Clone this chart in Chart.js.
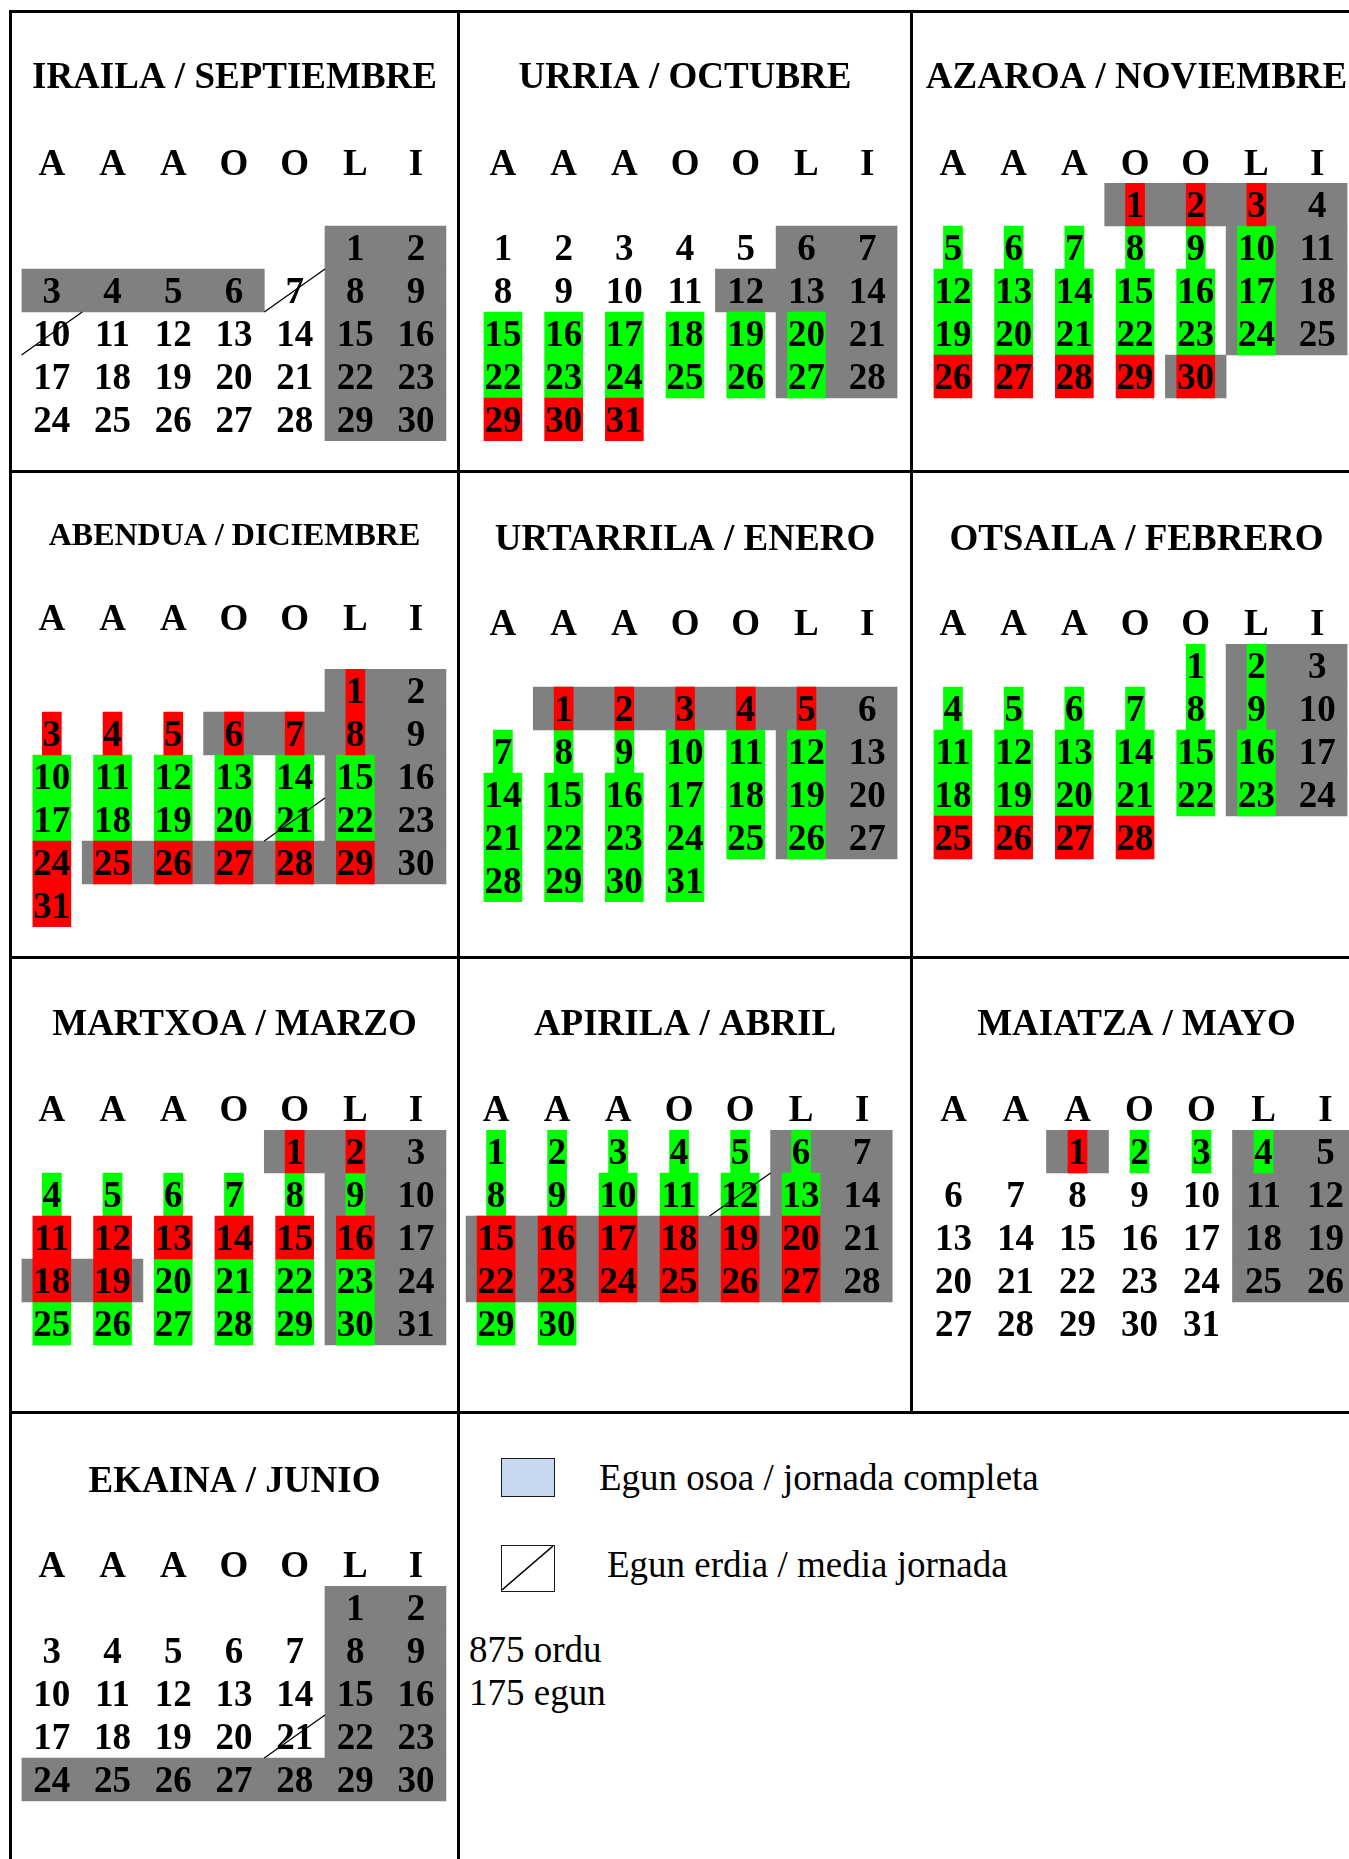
<!DOCTYPE html>
<html lang="eu">
<head>
    <meta charset="UTF-8">
    <meta name="viewport" content="width=device-width, initial-scale=1.0">
    <title>Egutegia / Calendario</title>
    <script src="https://cdn.jsdelivr.net/npm/chart.js"></script>
    <style>
        body { margin: 0; background: #fff; }
        #page { position: relative; width: 1349px; height: 1859px; overflow: hidden; background: #fff; }
        #page canvas { position: absolute; }
        .ln { position: absolute; background: #000; }
        .txt {
            position: absolute;
            font-family: "Liberation Serif", "Times New Roman", serif;
            font-size: 37px;
            line-height: 37px;
            white-space: nowrap;
            color: #000;
        }
        .key { position: absolute; box-sizing: border-box; border: 1.5px solid #1a1a1a; }
    </style>
</head>
<body>
<div id="page">
    <!-- table lines -->
    <div class="ln" style="left:9px;top:10px;width:3px;height:1849px"></div>
    <div class="ln" style="left:457px;top:10px;width:3px;height:1849px"></div>
    <div class="ln" style="left:910px;top:10px;width:3px;height:1404px"></div>
    <div class="ln" style="left:9px;top:10px;width:1340px;height:3px"></div>
    <div class="ln" style="left:9px;top:470px;width:1340px;height:3px"></div>
    <div class="ln" style="left:9px;top:956px;width:1340px;height:3px"></div>
    <div class="ln" style="left:9px;top:1411px;width:1340px;height:3px"></div>

    <!-- legend -->
    <div class="key" style="left:501px;top:1458px;width:54px;height:39px;background:#c6d9f1"></div>
    <div class="key" style="left:501px;top:1545px;width:54px;height:47px;background:#fff">
        <svg width="51" height="44" viewBox="0 0 51 44" style="display:block">
            <line x1="0" y1="44" x2="51" y2="0" stroke="#000" stroke-width="1.5"/>
        </svg>
    </div>
    <div class="txt" id="leg0" style="left:599px;top:1459px"></div>
    <div class="txt" id="leg1" style="left:607px;top:1546px"></div>
    <div class="txt" id="tot0" style="left:469px;top:1631px"></div>
    <div class="txt" id="tot1" style="left:469px;top:1674px"></div>
</div>

<script>
    // ---- data ----
    const weekdayLabels = ['A', 'A', 'A', 'O', 'O', 'L', 'I'];
    const monthTitles = [
        'IRAILA / SEPTIEMBRE', 'URRIA / OCTUBRE', 'AZAROA / NOVIEMBRE',
        'ABENDUA / DICIEMBRE', 'URTARRILA / ENERO', 'OTSAILA / FEBRERO',
        'MARTXOA / MARZO', 'APIRILA / ABRIL', 'MAIATZA / MAYO', 'EKAINA / JUNIO'
    ];
    // column of day 1 (0 = astelehena ... 6 = igandea)
    const firstWeekday = [5, 0, 3, 5, 1, 4, 4, 0, 2, 5];
    const monthLength = [30, 31, 30, 31, 31, 28, 31, 30, 31, 30];
    // grey runs [fromDay, toDay], each inside one week
    const greyRuns = [
        [[1, 2], [3, 6], [8, 9], [15, 16], [22, 23], [29, 30]],
        [[6, 7], [12, 14], [20, 21], [27, 28]],
        [[1, 4], [10, 11], [17, 18], [24, 25], [30, 30]],
        [[1, 2], [6, 9], [15, 16], [22, 23], [25, 30]],
        [[1, 6], [12, 13], [19, 20], [26, 27]],
        [[2, 3], [9, 10], [16, 17], [23, 24]],
        [[1, 3], [9, 10], [16, 17], [18, 19], [23, 24], [30, 31]],
        [[6, 7], [13, 14], [15, 21], [22, 28]],
        [[1, 1], [4, 5], [11, 12], [18, 19], [25, 26]],
        [[1, 2], [8, 9], [15, 16], [22, 23], [24, 30]]
    ];
    const greenDays = [
        [],
        [15, 16, 17, 18, 19, 20, 22, 23, 24, 25, 26, 27],
        [5, 6, 7, 8, 9, 10, 12, 13, 14, 15, 16, 17, 19, 20, 21, 22, 23, 24],
        [10, 11, 12, 13, 14, 15, 17, 18, 19, 20, 21, 22],
        [7, 8, 9, 10, 11, 12, 14, 15, 16, 17, 18, 19, 21, 22, 23, 24, 25, 26, 28, 29, 30, 31],
        [1, 2, 4, 5, 6, 7, 8, 9, 11, 12, 13, 14, 15, 16, 18, 19, 20, 21, 22, 23],
        [4, 5, 6, 7, 8, 9, 20, 21, 22, 23, 25, 26, 27, 28, 29, 30],
        [1, 2, 3, 4, 5, 6, 8, 9, 10, 11, 12, 13, 29, 30],
        [2, 3, 4],
        []
    ];
    const redDays = [
        [],
        [29, 30, 31],
        [1, 2, 3, 26, 27, 28, 29, 30],
        [1, 3, 4, 5, 6, 7, 8, 24, 25, 26, 27, 28, 29, 31],
        [1, 2, 3, 4, 5],
        [25, 26, 27, 28],
        [1, 2, 11, 12, 13, 14, 15, 16, 18, 19],
        [15, 16, 17, 18, 19, 20, 22, 23, 24, 25, 26, 27],
        [1],
        []
    ];
    const halfDays = [[7, 10], [], [], [21], [], [], [], [12], [], [21]];
    const legendLabels = ['Egun osoa / jornada completa', 'Egun erdia / media jornada'];
    const totals = ['875 ordu', '175 egun'];

    // ---- layout (page px) ----
    const ROW_H = 43;
    const ROW_SLOTS = 6;
    const DIGIT_W = 19;
    const layout = [
        { box: [12, 13, 445, 457],  gridLeft: 21.5,  colW: 60.7, gridTop: 183,  weekSlot: 1, titleBase: 88,   headBase: 175,  titleSize: 37 },
        { box: [460, 13, 450, 457], gridLeft: 472.6, colW: 60.7, gridTop: 183,  weekSlot: 1, titleBase: 88,   headBase: 175,  titleSize: 37 },
        { box: [913, 13, 447, 457], gridLeft: 922.6, colW: 60.7, gridTop: 183,  weekSlot: 0, titleBase: 88,   headBase: 175,  titleSize: 37 },
        { box: [12, 473, 445, 483], gridLeft: 21.5,  colW: 60.7, gridTop: 669,  weekSlot: 0, titleBase: 545,  headBase: 630,  titleSize: 32 },
        { box: [460, 473, 450, 483], gridLeft: 472.6, colW: 60.7, gridTop: 644, weekSlot: 1, titleBase: 550,  headBase: 635,  titleSize: 37 },
        { box: [913, 473, 447, 483], gridLeft: 922.6, colW: 60.7, gridTop: 644, weekSlot: 0, titleBase: 550,  headBase: 635,  titleSize: 37 },
        { box: [12, 959, 445, 452], gridLeft: 21.5,  colW: 60.7, gridTop: 1130, weekSlot: 0, titleBase: 1035, headBase: 1121, titleSize: 37 },
        { box: [460, 959, 450, 452], gridLeft: 465.6, colW: 61,  gridTop: 1130, weekSlot: 0, titleBase: 1035, headBase: 1121, titleSize: 37 },
        { box: [913, 959, 447, 452], gridLeft: 922.5, colW: 62,  gridTop: 1130, weekSlot: 0, titleBase: 1035, headBase: 1121, titleSize: 37 },
        { box: [12, 1414, 445, 445], gridLeft: 21.5, colW: 60.7, gridTop: 1586, weekSlot: 0, titleBase: 1492, headBase: 1577, titleSize: 37 }
    ];

    function cellOf(m, day) {
        const idx = firstWeekday[m] + day - 1;
        return { col: idx % 7, slot: Math.floor(idx / 7) + layout[m].weekSlot };
    }

    function buildDatasets(m) {
        const colW = layout[m].colW;
        const grey = greyRuns[m].map(([a, b]) => {
            const p = cellOf(m, a), q = cellOf(m, b);
            return { y: p.slot, x: [p.col - 0.5, q.col + 0.5] };
        });
        // highlight as wide as the number itself
        const marks = days => days.map(d => {
            const c = cellOf(m, d);
            const half = String(d).length * DIGIT_W / 2 / colW;
            return { y: c.slot, x: [c.col - half, c.col + half] };
        });
        const common = { grouped: false, categoryPercentage: 1, barPercentage: 1, borderWidth: 0 };
        return [
            { ...common, label: 'grey', data: grey, backgroundColor: '#808080', order: 3 },
            { ...common, label: 'green', data: marks(greenDays[m]), backgroundColor: '#00ff00', order: 2 },
            { ...common, label: 'red', data: marks(redDays[m]), backgroundColor: '#ff0000', order: 1 }
        ];
    }

    // titles, weekday header, day numbers and half-day slashes
    const calendarText = {
        id: 'calendarText',
        afterDatasetsDraw(chart, args, opts) {
            const m = opts.month;
            const L = layout[m];
            const top = L.box[1];
            const { ctx } = chart;
            const { x, y } = chart.scales;
            ctx.save();
            ctx.fillStyle = '#000';
            ctx.textAlign = 'center';
            ctx.textBaseline = 'alphabetic';
            ctx.font = 'bold ' + L.titleSize + 'px "Liberation Serif"';
            ctx.fillText(monthTitles[m], chart.width / 2, L.titleBase - top);
            ctx.font = 'bold 37px "Liberation Serif"';
            weekdayLabels.forEach((lab, i) => ctx.fillText(lab, x.getPixelForValue(i), L.headBase - top));
            for (let d = 1; d <= monthLength[m]; d++) {
                const c = cellOf(m, d);
                ctx.fillText(String(d), x.getPixelForValue(c.col), y.getPixelForValue(c.slot) + 12.5);
            }
            ctx.strokeStyle = '#000';
            ctx.lineWidth = 1.3;
            halfDays[m].forEach(d => {
                const c = cellOf(m, d);
                ctx.beginPath();
                ctx.moveTo(x.getPixelForValue(c.col - 0.5), y.getPixelForValue(c.slot + 0.5));
                ctx.lineTo(x.getPixelForValue(c.col + 0.5), y.getPixelForValue(c.slot - 0.5));
                ctx.stroke();
            });
            ctx.restore();
        }
    };

    const page = document.getElementById('page');
    monthTitles.forEach((title, m) => {
        const L = layout[m];
        const [bx, by, bw, bh] = L.box;
        const canvas = document.createElement('canvas');
        canvas.width = bw;
        canvas.height = bh;
        canvas.style.left = bx + 'px';
        canvas.style.top = by + 'px';
        canvas.style.width = bw + 'px';
        canvas.style.height = bh + 'px';
        page.appendChild(canvas);

        const gridW = 7 * L.colW;
        const gridH = ROW_SLOTS * ROW_H;
        new Chart(canvas, {
            type: 'bar',
            data: { datasets: buildDatasets(m) },
            options: {
                indexAxis: 'y',
                responsive: false,
                animation: false,
                devicePixelRatio: 1,
                events: [],
                layout: {
                    autoPadding: false,
                    padding: {
                        left: L.gridLeft - bx,
                        top: L.gridTop - by,
                        right: bx + bw - L.gridLeft - gridW,
                        bottom: by + bh - L.gridTop - gridH
                    }
                },
                scales: {
                    x: { type: 'linear', min: -0.5, max: 6.5, offset: false, display: false, ticks: { stepSize: 1 } },
                    y: { type: 'linear', min: -0.5, max: ROW_SLOTS - 0.5, offset: false, reverse: true, display: false, ticks: { stepSize: 1 } }
                },
                plugins: {
                    legend: { display: false },
                    tooltip: { enabled: false },
                    calendarText: { month: m }
                }
            },
            plugins: [calendarText]
        });
    });

    document.getElementById('leg0').textContent = legendLabels[0];
    document.getElementById('leg1').textContent = legendLabels[1];
    document.getElementById('tot0').textContent = totals[0];
    document.getElementById('tot1').textContent = totals[1];
</script>
</body>
</html>
